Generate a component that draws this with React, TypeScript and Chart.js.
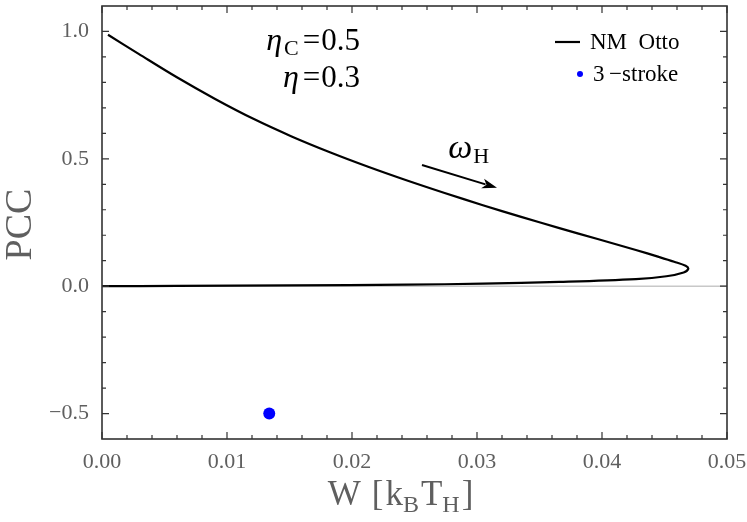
import { useEffect, useRef } from 'react'
import Chart from 'chart.js/auto'

// NM Otto curve, upper branch out to the tip, then the lower branch back to the origin
const OTTO_W = [
  0.00048, 0.00293, 0.00599, 0.00905, 0.01211, 0.01517, 0.01823, 0.02129, 0.02435, 0.02741,
  0.03047, 0.03353, 0.03659, 0.03965, 0.04271, 0.04454, 0.04577, 0.04669, 0.0469, 0.04653,
  0.04515, 0.04271, 0.03659, 0.03047, 0.02435, 0.01517, 0.006, 0.0,
]
const OTTO_PCC = [
  0.987, 0.912, 0.820, 0.735, 0.657, 0.588, 0.526, 0.469, 0.416, 0.366,
  0.318, 0.272, 0.228, 0.185, 0.142, 0.115, 0.096, 0.080, 0.068, 0.054,
  0.039, 0.028, 0.017, 0.010, 0.006, 0.003, 0.001, 0.0,
]

// single 3-stroke point
const STROKE3_W = [0.01338]
const STROKE3_PCC = [-0.5]

const X_TICKS = [0, 0.01, 0.02, 0.03, 0.04, 0.05]
const X_MINOR = [
  0.002, 0.004, 0.006, 0.008, 0.012, 0.014, 0.016, 0.018, 0.022, 0.024, 0.026, 0.028,
  0.032, 0.034, 0.036, 0.038, 0.042, 0.044, 0.046, 0.048,
]
const Y_TICKS = [-0.5, 0, 0.5, 1.0]
const Y_MINOR = [-0.4, -0.3, -0.2, -0.1, 0.1, 0.2, 0.3, 0.4, 0.6, 0.7, 0.8, 0.9]

// arrow showing the direction of increasing omega_H
const ARROW_FROM = [0.0256, 0.476]
const ARROW_TO = [0.0316, 0.386]

const SERIF = "'Liberation Serif', 'Times New Roman', serif"
const GRAY = '#5f5f5f'
const FRAME = '#333333'

type Seg = { t: string; font: string; dy?: number; gap?: number }

function drawRich(ctx: CanvasRenderingContext2D, segs: Seg[], x: number, y: number, align: 'left' | 'right' | 'center') {
  let w = 0
  for (const s of segs) {
    ctx.font = s.font
    w += ctx.measureText(s.t).width + (s.gap ?? 0)
  }
  let cx = align === 'left' ? x : align === 'right' ? x - w : x - w / 2
  ctx.textAlign = 'left'
  ctx.textBaseline = 'alphabetic'
  for (const s of segs) {
    ctx.font = s.font
    ctx.fillText(s.t, cx, y + (s.dy ?? 0))
    cx += ctx.measureText(s.t).width + (s.gap ?? 0)
  }
}

const decor = {
  id: 'decor',
  beforeDatasetsDraw(chart: any) {
    const { ctx, chartArea: a, scales } = chart
    const y0 = scales.y.getPixelForValue(0)
    ctx.save()
    ctx.strokeStyle = '#c8c8c8'
    ctx.lineWidth = 1.5
    ctx.beginPath()
    ctx.moveTo(a.left, y0)
    ctx.lineTo(a.right, y0)
    ctx.stroke()
    ctx.restore()
  },
  afterDatasetsDraw(chart: any) {
    const { ctx, chartArea: a, scales } = chart
    const xs = scales.x
    const ys = scales.y
    ctx.save()

    // frame with inward ticks on all four sides
    ctx.strokeStyle = FRAME
    ctx.lineWidth = 1.6
    ctx.strokeRect(a.left, a.top, a.right - a.left, a.bottom - a.top)
    ctx.lineWidth = 1.2
    ctx.beginPath()
    const xTick = (v: number, len: number) => {
      const px = xs.getPixelForValue(v)
      ctx.moveTo(px, a.bottom)
      ctx.lineTo(px, a.bottom - len)
      ctx.moveTo(px, a.top)
      ctx.lineTo(px, a.top + len)
    }
    const yTick = (v: number, len: number) => {
      const py = ys.getPixelForValue(v)
      ctx.moveTo(a.left, py)
      ctx.lineTo(a.left + len, py)
      ctx.moveTo(a.right, py)
      ctx.lineTo(a.right - len, py)
    }
    X_TICKS.forEach(v => xTick(v, 7))
    X_MINOR.forEach(v => xTick(v, 4))
    Y_TICKS.forEach(v => yTick(v, 7))
    Y_MINOR.forEach(v => yTick(v, 4))
    ctx.stroke()

    // omega_H arrow
    const x1 = xs.getPixelForValue(ARROW_FROM[0])
    const y1 = ys.getPixelForValue(ARROW_FROM[1])
    const x2 = xs.getPixelForValue(ARROW_TO[0])
    const y2 = ys.getPixelForValue(ARROW_TO[1])
    const ang = Math.atan2(y2 - y1, x2 - x1)
    const head = 15
    ctx.strokeStyle = '#000'
    ctx.fillStyle = '#000'
    ctx.lineWidth = 2
    ctx.beginPath()
    ctx.moveTo(x1, y1)
    ctx.lineTo(x2 - Math.cos(ang) * (head - 3), y2 - Math.sin(ang) * (head - 3))
    ctx.stroke()
    ctx.beginPath()
    ctx.moveTo(x2, y2)
    ctx.lineTo(x2 - head * Math.cos(ang) + 5 * Math.sin(ang), y2 - head * Math.sin(ang) - 5 * Math.cos(ang))
    ctx.lineTo(x2 - (head - 4) * Math.cos(ang), y2 - (head - 4) * Math.sin(ang))
    ctx.lineTo(x2 - head * Math.cos(ang) - 5 * Math.sin(ang), y2 - head * Math.sin(ang) + 5 * Math.cos(ang))
    ctx.closePath()
    ctx.fill()

    // omega_H label
    drawRich(ctx, [
      { t: 'ω', font: `italic 34px ${SERIF}`, gap: 1 },
      { t: 'H', font: `22px ${SERIF}`, dy: 5 },
    ], xs.getPixelForValue(0.0277), ys.getPixelForValue(0.502), 'left')

    // efficiencies
    drawRich(ctx, [
      { t: 'η', font: `italic 32px ${SERIF}`, gap: 2 },
      { t: 'C', font: `22px ${SERIF}`, dy: 5, gap: 4 },
      { t: '=', font: `31px ${SERIF}`, gap: 1 },
      { t: '0.5', font: `31px ${SERIF}` },
    ], xs.getPixelForValue(0.02064), ys.getPixelForValue(0.929), 'right')
    drawRich(ctx, [
      { t: 'η', font: `italic 32px ${SERIF}`, gap: 4 },
      { t: '=', font: `31px ${SERIF}`, gap: 1 },
      { t: '0.3', font: `31px ${SERIF}` },
    ], xs.getPixelForValue(0.02064), ys.getPixelForValue(0.782), 'right')

    // legend
    const lx = a.right - 137
    ctx.strokeStyle = '#000'
    ctx.lineWidth = 2.2
    ctx.beginPath()
    ctx.moveTo(a.right - 172, a.top + 36)
    ctx.lineTo(a.right - 147, a.top + 36)
    ctx.stroke()
    ctx.fillStyle = '#0000ff'
    ctx.beginPath()
    ctx.arc(a.right - 147, a.top + 68, 3, 0, Math.PI * 2)
    ctx.fill()
    ctx.fillStyle = '#000'
    ctx.font = `23px ${SERIF}`
    ctx.textAlign = 'left'
    ctx.textBaseline = 'middle'
    ctx.fillText('NM  Otto', lx, a.top + 37)
    ctx.fillText('3\u2009\u2212stroke', lx + 3, a.top + 69)

    // axis titles
    ctx.fillStyle = GRAY
    ctx.save()
    ctx.translate(a.left - 81, (a.top + a.bottom) / 2 + 2)
    ctx.rotate(-Math.PI / 2)
    ctx.font = `38px ${SERIF}`
    ctx.textAlign = 'center'
    ctx.textBaseline = 'middle'
    ctx.fillText('PCC', 0, 0)
    ctx.restore()
    drawRich(ctx, [
      { t: 'W', font: `35px ${SERIF}`, gap: 11 },
      { t: '[', font: `35px ${SERIF}`, gap: 2 },
      { t: 'k', font: `35px ${SERIF}` },
      { t: 'B', font: `24px ${SERIF}`, dy: 7, gap: 2 },
      { t: 'T', font: `35px ${SERIF}` },
      { t: 'H', font: `24px ${SERIF}`, dy: 7, gap: 2 },
      { t: ']', font: `35px ${SERIF}` },
    ], (a.left + a.right) / 2 - 14, a.bottom + 66, 'center')

    ctx.restore()
  },
}

const App = () => {
  const canvasRef = useRef<HTMLCanvasElement>(null)
  const chartInstance = useRef<Chart | null>(null)

  useEffect(() => {
    if (!canvasRef.current) return
    if (chartInstance.current) chartInstance.current.destroy()

    chartInstance.current = new Chart(canvasRef.current, {
      type: 'scatter',
      data: {
        datasets: [
          {
            label: 'NM Otto',
            data: OTTO_W.map((w, i) => ({ x: w, y: OTTO_PCC[i] })),
            showLine: true,
            borderColor: '#000',
            borderWidth: 2.2,
            tension: 0.35,
            pointRadius: 0,
          },
          {
            label: '3-stroke',
            data: STROKE3_W.map((w, i) => ({ x: w, y: STROKE3_PCC[i] })),
            backgroundColor: '#0000ff',
            borderWidth: 0,
            pointRadius: 6,
          },
        ],
      },
      options: {
        animation: false,
        responsive: true,
        maintainAspectRatio: false,
        layout: { padding: { top: 1, right: 20, left: 0, bottom: 0 } },
        plugins: { legend: { display: false }, tooltip: { enabled: false } },
        scales: {
          x: {
            type: 'linear',
            min: 0,
            max: 0.05,
            afterBuildTicks: (s: any) => { s.ticks = X_TICKS.map(v => ({ value: v })) },
            afterFit: (s: any) => { s.height = 83; s.paddingLeft = 0; s.paddingRight = 0 },
            grid: { display: false },
            border: { display: false },
            ticks: {
              autoSkip: false,
              maxRotation: 0,
              padding: 2,
              color: GRAY,
              font: { family: SERIF, size: 22 },
              callback: (v: any) => Number(v).toFixed(2),
            },
          },
          y: {
            type: 'linear',
            min: -0.6,
            max: 1.1,
            afterBuildTicks: (s: any) => { s.ticks = Y_TICKS.map(v => ({ value: v })) },
            afterFit: (s: any) => { s.width = 102; s.paddingTop = 0; s.paddingBottom = 0 },
            grid: { display: false },
            border: { display: false },
            ticks: {
              autoSkip: false,
              padding: 5,
              color: GRAY,
              font: { family: SERIF, size: 22 },
              callback: (v: any) => (v < 0 ? '\u2212' + Math.abs(v).toFixed(1) : Number(v).toFixed(1)),
            },
          },
        },
      },
      plugins: [decor],
    })

    return () => {
      if (chartInstance.current) {
        chartInstance.current.destroy()
        chartInstance.current = null
      }
    }
  }, [])

  return (
    <div style={{ position: 'absolute', left: 0, top: 0, width: '747px', height: '522px', background: '#fff' }}>
      <canvas ref={canvasRef}></canvas>
    </div>
  )
}

export default App
